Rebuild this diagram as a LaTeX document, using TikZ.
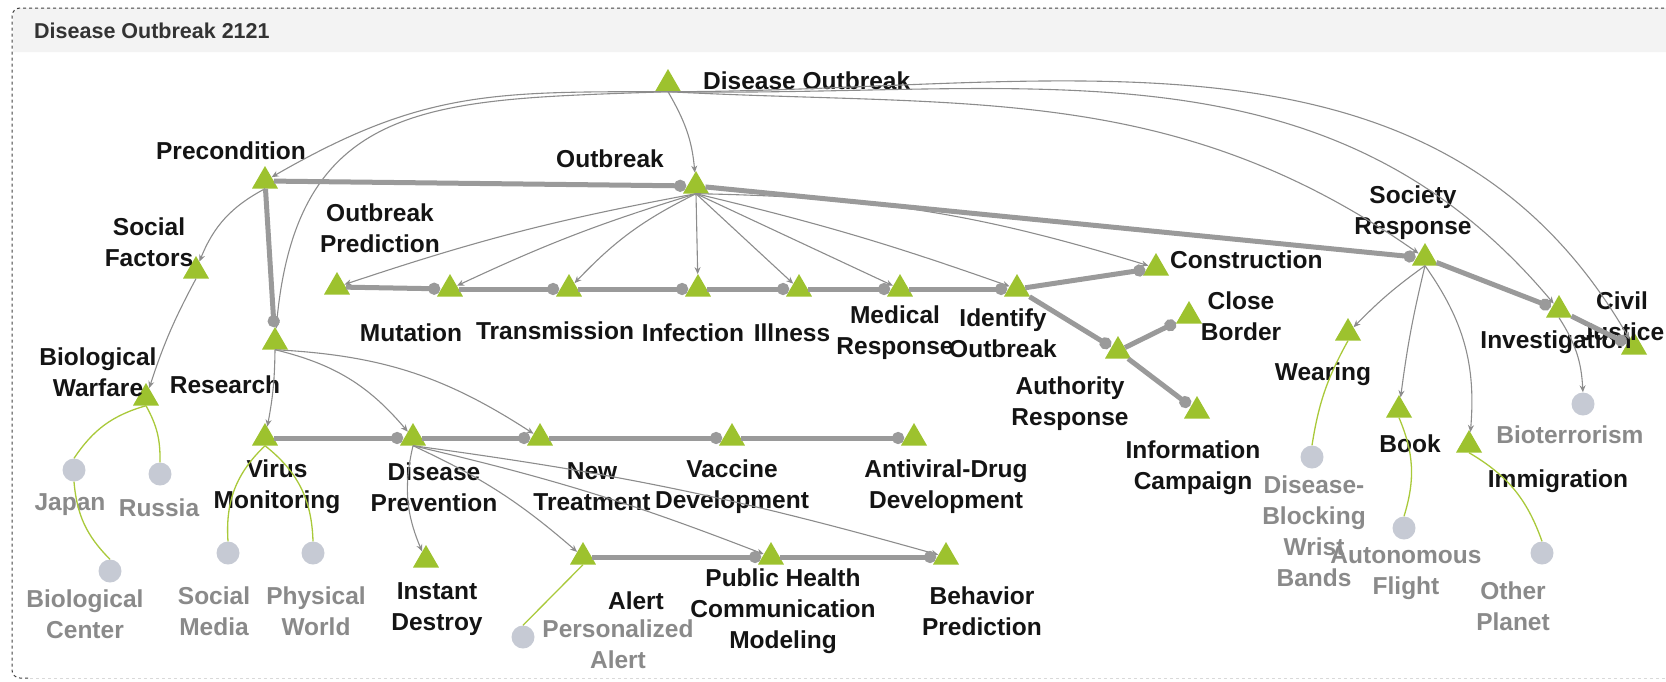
\documentclass[tikz,border=0pt]{standalone}
\usepackage{fontspec}
\setmainfont{Liberation Sans}
\usetikzlibrary{shapes.geometric,arrows.meta,positioning}

\definecolor{trigreen}{HTML}{9DC22E}
\definecolor{dotgray}{HTML}{C6CAD4}
\definecolor{lbgray}{HTML}{8A8A8A}
\definecolor{edgegray}{HTML}{8C8C8C}
\definecolor{seqgray}{HTML}{9A9A9A}
\definecolor{leafgreen}{HTML}{A9C93A}
\definecolor{barfill}{HTML}{F3F3F3}
\newcommand{\lblsize}{\fontsize{24.5}{31}\selectfont\bfseries}

\begin{document}
\begin{tikzpicture}[x=1pt, y=1pt,
    tri/.style={regular polygon, regular polygon sides=3, fill=trigreen, inner sep=0pt, minimum size=30pt},
    leafdot/.style={circle, fill=dotgray, inner sep=0pt, minimum size=23pt},
    lbl/.style={font=\lblsize, text=black!92, align=center, inner sep=0pt},
    glbl/.style={lbl, text=lbgray},
    sub/.style={-{Stealth[length=7pt,width=6pt]}, draw=edgegray, line width=1.1pt},
    seq/.style={-{Circle[length=12pt]}, draw=seqgray, line width=5pt, shorten >=1pt},
    leaf/.style={draw=leafgreen, line width=1.3pt}
    ]

    % Rahmen und Titelleiste
    \useasboundingbox (0,0) rectangle (1666,-681);
    \fill[barfill] (13,-52) -- (13,-16) arc[start angle=180, end angle=90, radius=8] -- (1666,-8) -- (1666,-52) -- cycle;
    \draw[black!75, dashed, line width=1pt, rounded corners=8pt] (1670,-8) -- (12,-8) -- (12,-678) -- (30,-678);
    \draw[black!15, dashed, line width=1pt] (30,-678) -- (1670,-678);
    \node[font=\fontsize{21.5}{26}\selectfont\bfseries, text=black!80, anchor=west, inner sep=0pt] (title) at (34,-31) {Disease Outbreak 2121};

    % Ebene 1
    \node[tri] (do) at (668,-84) {};
    \node[tri] (pre) at (265,-181) {};
    \node[tri] (out) at (696,-186) {};
    \node[tri] (sre) at (1425,-258) {};
    \node[tri] (inv) at (1559,-310) {};
    \node[tri] (civ) at (1634,-347) {};

    % Vorbedingung und Forschung
    \node[tri] (soc) at (196,-271) {};
    \node[tri] (bio) at (146,-398) {};
    \node[leafdot] (jap) at (74,-470) {};
    \node[leafdot] (rus) at (160,-474) {};
    \node[leafdot] (bce) at (110,-571) {};
    \node[tri] (res) at (275,-342) {};
    \node[tri] (vir) at (265,-438) {};
    \node[leafdot] (sme) at (228,-553) {};
    \node[leafdot] (phw) at (313,-553) {};
    \node[tri] (dpr) at (413,-438) {};
    \node[tri] (ins) at (426,-560) {};
    \node[tri] (ntr) at (540,-438) {};
    \node[tri] (vac) at (732,-438) {};
    \node[tri] (ant) at (914,-438) {};
    \node[tri] (ale) at (583,-557) {};
    \node[leafdot] (pal) at (523,-637) {};
    \node[tri] (phc) at (771,-557) {};
    \node[tri] (beh) at (946,-557) {};

    % Ausbruch
    \node[tri] (opr) at (337,-287) {};
    \node[tri] (mut) at (450,-289) {};
    \node[tri] (tra) at (569,-289) {};
    \node[tri] (inf) at (698,-289) {};
    \node[tri] (ill) at (799,-289) {};
    \node[tri] (med) at (900,-289) {};
    \node[tri] (ido) at (1017,-289) {};
    \node[tri] (con) at (1156,-268) {};
    \node[tri] (aut) at (1118,-351) {};
    \node[tri] (clb) at (1189,-316) {};
    \node[tri] (inc) at (1197,-411) {};

    % Gesellschaft
    \node[tri] (wea) at (1348,-333) {};
    \node[tri] (boo) at (1399,-410) {};
    \node[tri] (imm) at (1469,-445) {};
    \node[leafdot] (bter) at (1583,-404) {};
    \node[leafdot] (wri) at (1312,-457) {};
    \node[leafdot] (fli) at (1404,-528) {};
    \node[leafdot] (pla) at (1542,-553) {};

    % Beschriftungen
    \node[lbl, anchor=west] (doT) at (703,-81) {Disease Outbreak};
    \node[lbl] (preT) at (231,-151) {Precondition};
    \node[lbl] (outT) at (610,-159) {Outbreak};
    \node[lbl] (socT) at (149,-242) {Social\\Factors};
    \node[lbl] (oprT) at (380,-228) {Outbreak\\Prediction};
    \node[lbl] (resT) at (225,-385) {Research};
    \node[lbl] (bioT) at (98,-372) {Biological\\Warfare};
    \node[lbl] (mutT) at (411,-333) {Mutation};
    \node[lbl] (traT) at (555,-331) {Transmission};
    \node[lbl] (infT) at (693,-333) {Infection};
    \node[lbl] (illT) at (792,-333) {Illness};
    \node[lbl] (medT) at (895,-333) {Medical\\Response};
    \node[lbl] (idoT) at (1003,-333) {Identify\\Outbreak};
    \node[lbl, anchor=west] (conT) at (1170,-260) {Construction};
    \node[lbl] (clbT) at (1241,-316) {Close\\Border};
    \node[lbl] (autT) at (1070,-404) {Authority\\Response};
    \node[lbl] (incT) at (1193,-468) {Information\\Campaign};
    \node[lbl] (sreT) at (1413,-213) {Society\\Response};
    \node[lbl] (invT) at (1556,-342) {Investigation};
    \node[lbl] (civT) at (1622,-316) {Civil\\Justice};
    \node[lbl] (weaT) at (1323,-374) {Wearing};
    \node[lbl] (booT) at (1410,-444) {Book};
    \node[lbl] (immT) at (1558,-481) {Immigration};
    \node[glbl] (bterT) at (1570,-435) {Bioterrorism};
    \node[glbl] (wriT) at (1314,-531) {Disease-\\Blocking\\Wrist\\Bands};
    \node[glbl] (fliT) at (1406,-573) {Autonomous\\Flight};
    \node[glbl] (plaT) at (1513,-606) {Other\\Planet};
    \node[glbl] (japT) at (70,-505) {Japan};
    \node[glbl] (rusT) at (159,-508) {Russia};
    \node[glbl] (bceT) at (85,-614) {Biological\\Center};
    \node[lbl] (virT) at (277,-487) {Virus\\Monitoring};
    \node[glbl] (smeT) at (214,-611) {Social\\Media};
    \node[glbl] (phwT) at (316,-611) {Physical\\World};
    \node[lbl] (dprT) at (434,-487) {Disease\\Prevention};
    \node[lbl] (insT) at (437,-609) {Instant\\Destroy};
    \node[lbl] (ntrT) at (592,-487) {New\\Treatment};
    \node[lbl] (vacT) at (732,-487) {Vaccine\\Development};
    \node[lbl] (antT) at (946,-487) {Antiviral-Drug\\Development};
    \node[lbl] (aleT) at (636,-601) {Alert};
    \node[lbl] (phcT) at (783,-611) {Public Health\\Communication\\Modeling};
    \node[lbl] (behT) at (982,-611) {Behavior\\Prediction};
    \node[glbl] (palT) at (618,-644) {Personalized\\Alert};

    % Unterknoten (duenne Pfeile)
    \draw[sub] (do.south) to[out=180, in=30, looseness=1.1] (pre);
    \draw[sub] (do.south) to[out=182, in=85, looseness=1.3] (res);
    \draw[sub] (do.south) to[out=-60, in=95] (out);
    \draw[sub] (do.south) to[out=-3, in=145] (sre);
    \draw[sub] (do.south) to[out=-1, in=130] (inv);
    \draw[sub] (do.south) to[out=0, in=120] (civ);
    \draw[sub] (out.south) to[bend right=4] (opr);
    \draw[sub] (out.south) to[bend right=4] (mut);
    \draw[sub] (out.south) to[bend right=10] (tra);
    \draw[sub] (out.south) -- (inf);
    \draw[sub] (out.south) -- (ill);
    \draw[sub] (out.south) -- (med);
    \draw[sub] (out.south) to[bend left=3] (ido);
    \draw[sub] (out.south) to[bend left=8] (con);
    \draw[sub] (pre.south) to[bend right=20] (soc);
    \draw[sub] (soc.south) to[bend right=5] (bio);
    \draw[sub] (res.south) to[bend left=5] (vir);
    \draw[sub] (res.south) to[bend left=18] (dpr);
    \draw[sub] (res.south) to[bend left=15] (ntr);
    \draw[sub] (dpr.south) to[bend right=18] (ins);
    \draw[sub] (dpr.south) to[bend left=8] (ale);
    \draw[sub] (dpr.south) to[bend left=4] (phc);
    \draw[sub] (dpr.south) to[bend left=4] (beh);
    \draw[sub] (sre.south) to[bend right=5] (wea);
    \draw[sub] (sre.south) to[bend right=3] (boo);
    \draw[sub] (sre.south) to[bend left=20] (imm);
    \draw[sub] (inv.south) to[bend left=15] (bter);

    % Abfolgen (dicke Pfeile)
    \draw[seq] (pre) -- (out);
    \draw[seq] (pre) -- (res);
    \draw[seq] (out) -- (sre);
    \draw[seq] (sre) -- (inv);
    \draw[seq] (inv) -- (civ);
    \draw[seq] (opr) -- (mut);
    \draw[seq] (mut) -- (tra);
    \draw[seq] (tra) -- (inf);
    \draw[seq] (inf) -- (ill);
    \draw[seq] (ill) -- (med);
    \draw[seq] (med) -- (ido);
    \draw[seq] (ido) -- (con);
    \draw[seq] (ido) -- (aut);
    \draw[seq] (aut) -- (clb);
    \draw[seq] (aut) -- (inc);
    \draw[seq] (vir) -- (dpr);
    \draw[seq] (dpr) -- (ntr);
    \draw[seq] (ntr) -- (vac);
    \draw[seq] (vac) -- (ant);
    \draw[seq] (ale) -- (phc);
    \draw[seq] (phc) -- (beh);

    % Instanzen (gruene Linien)
    \draw[leaf] (bio.south) to[bend right=20] (jap.north);
    \draw[leaf] (bio.south) to[bend left=15] (rus.north);
    \draw[leaf] (jap.south) to[bend right=20] (bce.north);
    \draw[leaf] (vir.south) to[bend right=25] (sme.north);
    \draw[leaf] (vir.south) to[bend left=25] (phw.north);
    \draw[leaf] (wea.south) to[bend right=10] (wri.north);
    \draw[leaf] (boo.south) to[bend left=20] (fli.north);
    \draw[leaf] (imm.south) to[bend left=20] (pla.north);
    \draw[leaf] (ale.south) -- (pal.north);

\end{tikzpicture}
\end{document}
